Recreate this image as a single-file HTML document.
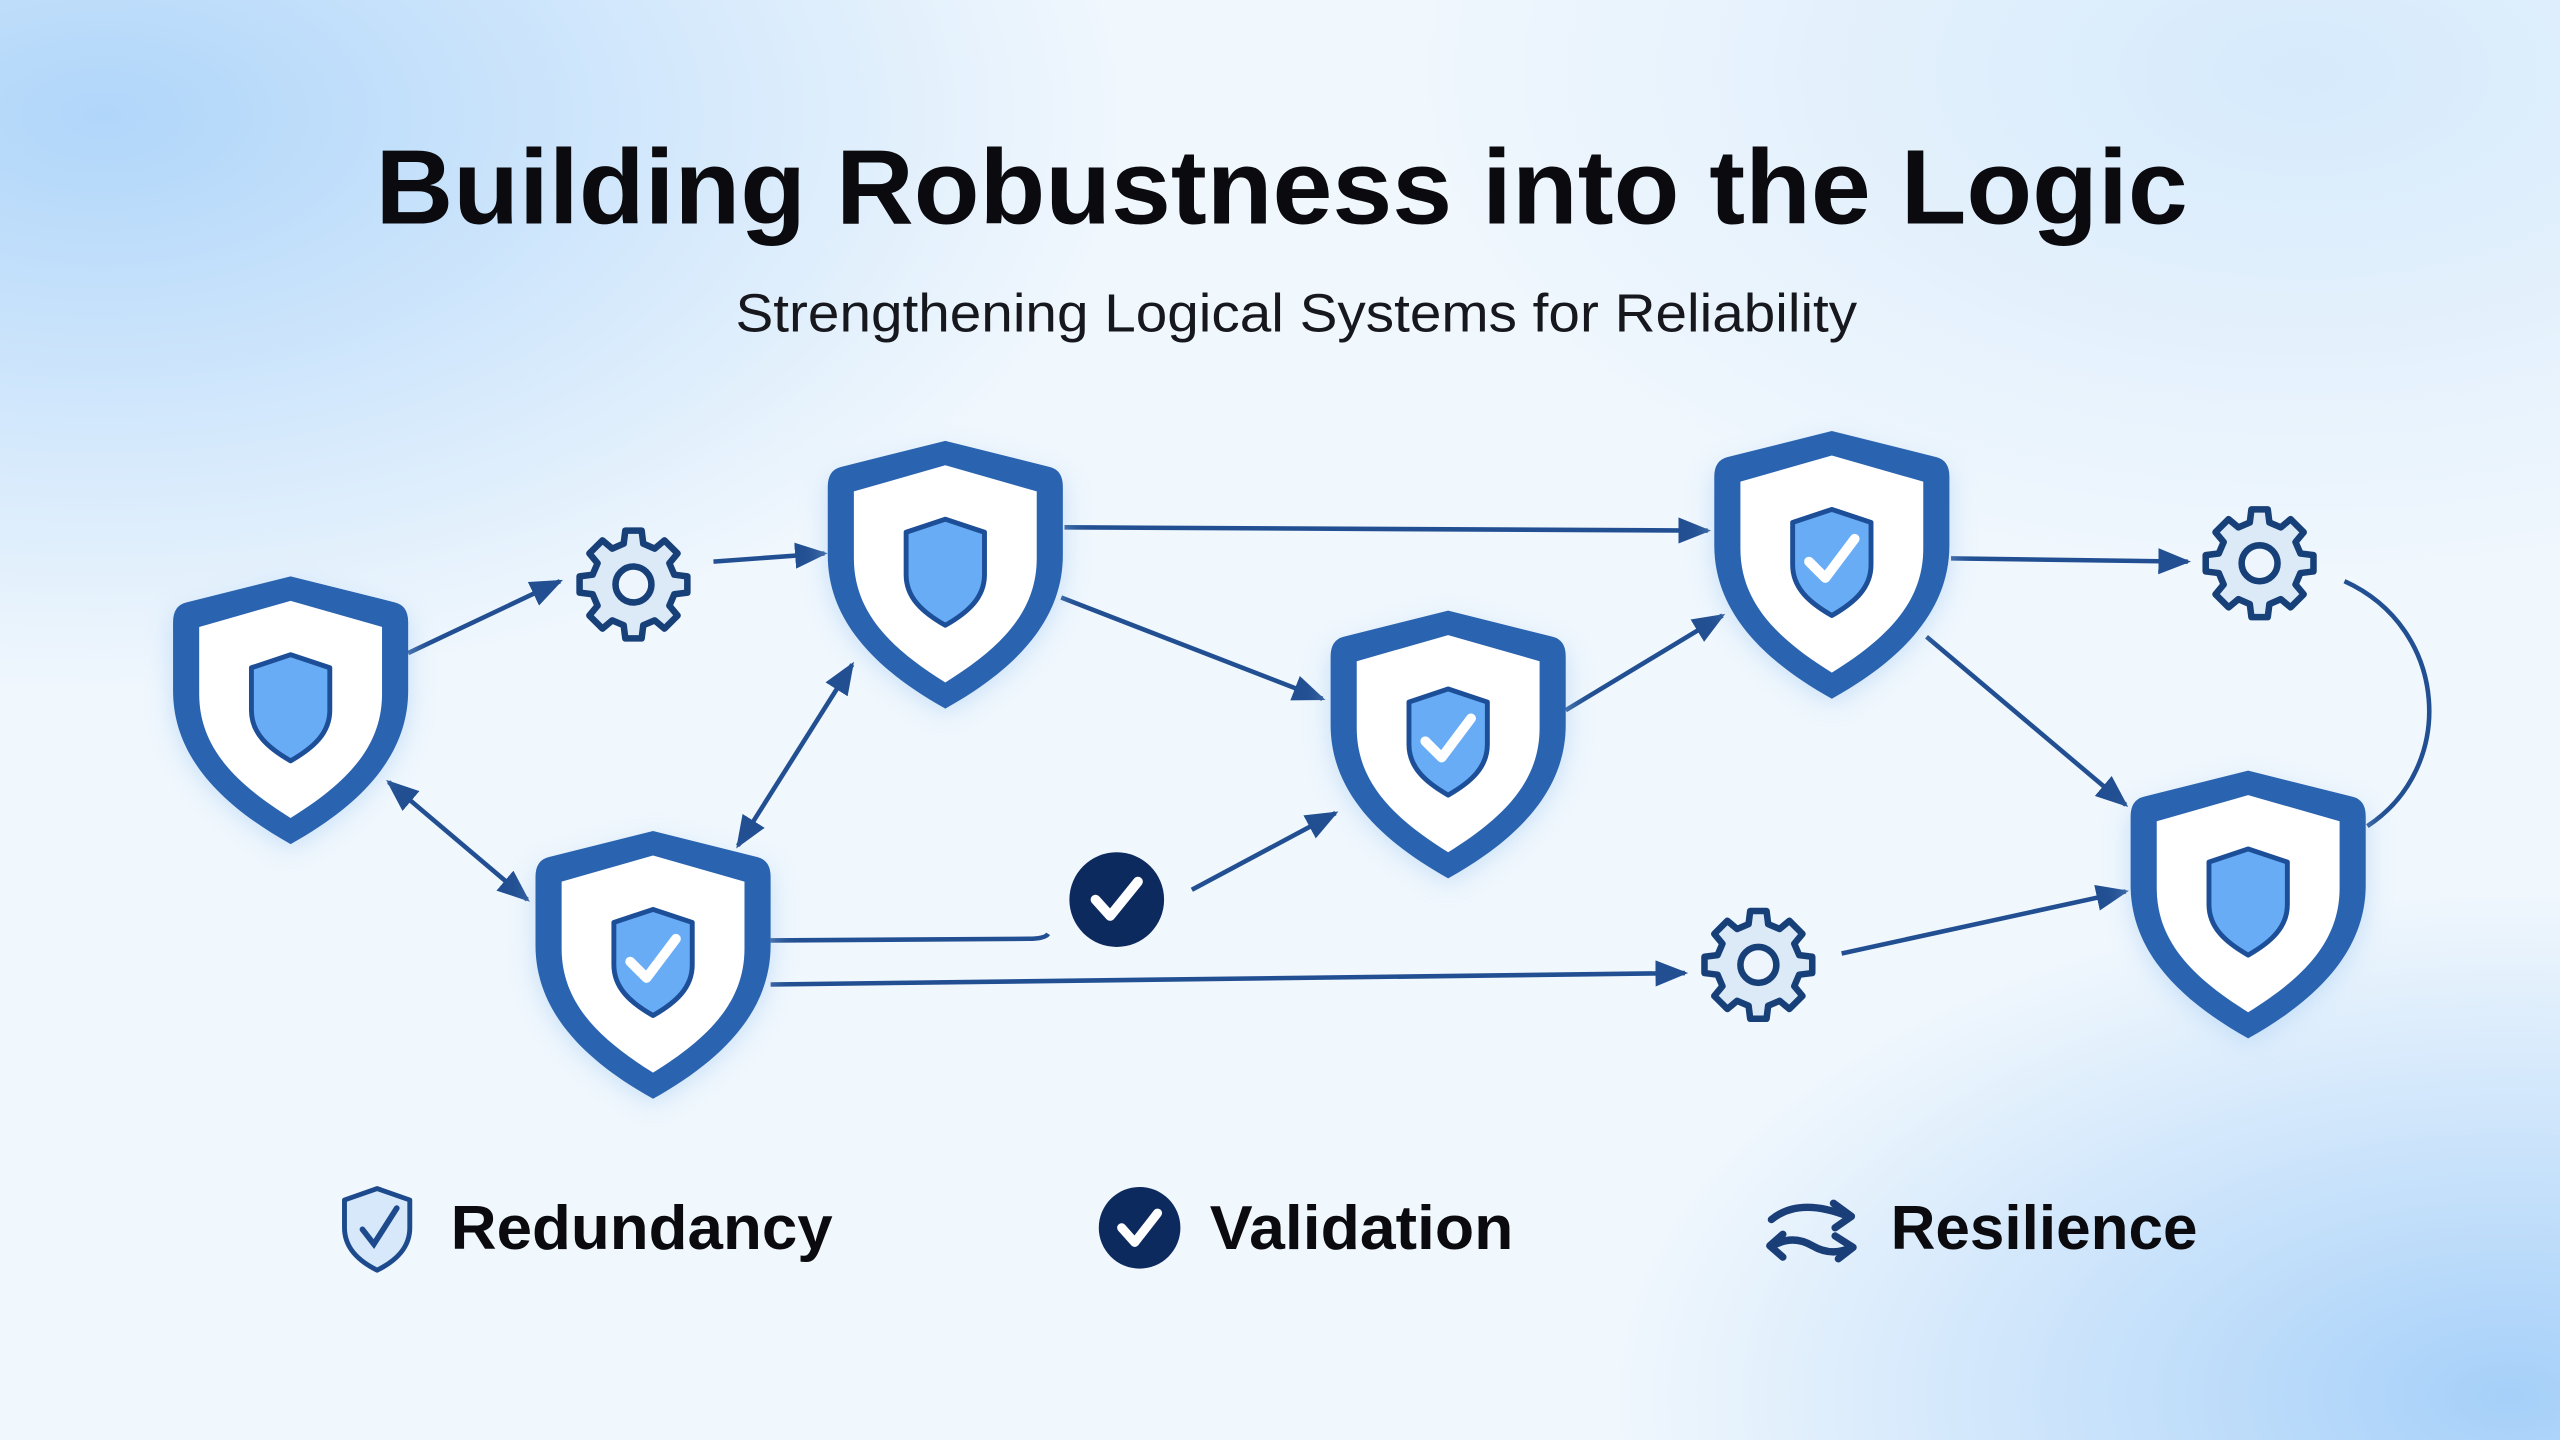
<!DOCTYPE html>
<html><head><meta charset="utf-8"><style>
html,body{margin:0;padding:0;width:2560px;height:1440px;overflow:hidden;}
svg{display:block}
</style></head><body>
<svg width="2560" height="1440" viewBox="0 0 1568 882" xmlns="http://www.w3.org/2000/svg">
<defs>
<radialGradient id="g1" cx="0.04" cy="0.08" r="0.4"><stop offset="0" stop-color="#b0d6fa"/><stop offset="1" stop-color="#b0d6fa" stop-opacity="0"/></radialGradient>
<radialGradient id="g2" cx="0.98" cy="0.97" r="0.35"><stop offset="0" stop-color="#a6d0f9"/><stop offset="1" stop-color="#a6d0f9" stop-opacity="0"/></radialGradient>
<radialGradient id="g3" cx="0.9" cy="0.05" r="0.35"><stop offset="0" stop-color="#d6eafc"/><stop offset="1" stop-color="#d6eafc" stop-opacity="0"/></radialGradient>
<marker id="a" viewBox="0 0 10 10" refX="9" refY="5" markerWidth="20" markerHeight="16" orient="auto-start-reverse" markerUnits="userSpaceOnUse" preserveAspectRatio="none"><path d="M0,0 L10,5 L0,10 Z" fill="#214f92"/></marker>
<filter id="sh" x="-30%" y="-30%" width="160%" height="160%"><feGaussianBlur stdDeviation="8"/></filter>
<g id="shield">
<path d="M72,6 L140,24 Q144,26 144,32 L144,72 C144,112 116,140 72,166 C28,140 0,112 0,72 L0,32 Q0,26 4,24 Z" fill="#a6cdf4" opacity="0.6" filter="url(#sh)"/>
<path d="M72,0 L136,16 Q144,18 144,28 L144,70 C144,110 115,140 72,164 C29,140 0,110 0,70 L0,28 Q0,18 8,16 Z" fill="#2a63b0"/>
<path d="M72,15 L128,31 L128,72 C128,106 104,128 72,148 C40,128 16,106 16,72 L16,31 Z" fill="#ffffff"/>
<path d="M72,48 L96,56 L96,82 C96,96 86,105 72,113 C58,105 48,96 48,82 L48,56 Z" fill="#68acf6" stroke="#1d4f98" stroke-width="3" stroke-linejoin="round"/>
</g>
<g id="gear">
<path d="M-5,-33 L5,-33 L6,-25 L13,-22 L19,-27 L27,-19 L22,-13 L25,-6 L33,-5 L33,5 L25,6 L22,13 L27,19 L19,27 L13,22 L6,25 L5,33 L-5,33 L-6,25 L-13,22 L-19,27 L-27,19 L-22,13 L-25,6 L-33,5 L-33,-5 L-25,-6 L-22,-13 L-27,-19 L-19,-27 L-13,-22 L-6,-25 Z" fill="#dceaf8" stroke="#173f78" stroke-width="4" stroke-linejoin="round"/>
<circle r="11" fill="#eef5fd" stroke="#173f78" stroke-width="4"/>
</g>
<path id="chk" d="M58,80 L68,90 L86,66" fill="none" stroke="#fff" stroke-width="6" stroke-linecap="round" stroke-linejoin="round"/>
</defs>
<rect width="1568" height="882" fill="#f0f7fd"/>
<rect width="1568" height="882" fill="url(#g3)"/>
<rect width="1568" height="882" fill="url(#g1)"/>
<rect width="1568" height="882" fill="url(#g2)"/>

<text x="785" y="137" text-anchor="middle" font-family="Liberation Sans, sans-serif" font-weight="bold" font-size="65" fill="#0b0b0f" textLength="1110" lengthAdjust="spacingAndGlyphs">Building Robustness into the Logic</text>
<text x="794" y="203" text-anchor="middle" font-family="Liberation Sans, sans-serif" font-size="33" fill="#16181d" textLength="687" lengthAdjust="spacingAndGlyphs">Strengthening Logical Systems for Reliability</text>

<g stroke="#214f92" stroke-width="2.8" fill="none">
<line x1="250" y1="400" x2="343" y2="356" marker-end="url(#a)"/>
<line x1="437" y1="344" x2="505" y2="339" marker-end="url(#a)"/>
<line x1="652" y1="323" x2="1046" y2="325" marker-end="url(#a)"/>
<line x1="650" y1="366" x2="810" y2="428" marker-end="url(#a)"/>
<line x1="522" y1="407" x2="452" y2="518" marker-start="url(#a)" marker-end="url(#a)"/>
<line x1="238" y1="479" x2="323" y2="551" marker-start="url(#a)" marker-end="url(#a)"/>
<path d="M472,576 L630,575 Q640,575 642,572"/>
<line x1="730" y1="545" x2="818" y2="498" marker-end="url(#a)"/>
<line x1="959" y1="435" x2="1055" y2="377" marker-end="url(#a)"/>
<line x1="1195" y1="342" x2="1340" y2="344" marker-end="url(#a)"/>
<line x1="1180" y1="390" x2="1302" y2="493" marker-end="url(#a)"/>
<line x1="472" y1="603" x2="1032" y2="596" marker-end="url(#a)"/>
<line x1="1128" y1="584" x2="1302" y2="546" marker-end="url(#a)"/>
<path d="M1436,356 C1500,385 1505,470 1450,506"/>
</g>

<use href="#shield" x="106" y="353"/>
<use href="#shield" x="507" y="270"/>
<use href="#shield" x="328" y="509"/><use href="#chk" x="328" y="509"/>
<use href="#shield" x="815" y="374"/><use href="#chk" x="815" y="374"/>
<use href="#shield" x="1050" y="264"/><use href="#chk" x="1050" y="264"/>
<use href="#shield" x="1305" y="472"/>

<use href="#gear" x="388" y="358"/>
<use href="#gear" x="1384" y="345"/>
<use href="#gear" x="1077" y="591"/>

<circle cx="684" cy="551" r="29" fill="#0d2a5e"/>
<path d="M671,551 L680,561 L697,540" fill="none" stroke="#fff" stroke-width="6" stroke-linecap="round" stroke-linejoin="round"/>

<path d="M231,728 L251,735 L251,752 C251,764 243,772 231,778 C219,772 211,764 211,752 L211,735 Z" fill="#d7e8fa" stroke="#1d4a8c" stroke-width="3" stroke-linejoin="round"/>
<path d="M222,753 L229,762 L243,740" fill="none" stroke="#1d4a8c" stroke-width="3.5" stroke-linecap="round"/>
<text x="276" y="765" font-family="Liberation Sans, sans-serif" font-weight="bold" font-size="38" fill="#0b0b0f" textLength="234" lengthAdjust="spacingAndGlyphs">Redundancy</text>
<circle cx="698" cy="752" r="25" fill="#0d2a5e"/>
<path d="M687,752 L695,761 L709,743" fill="none" stroke="#fff" stroke-width="5.5" stroke-linecap="round" stroke-linejoin="round"/>
<text x="741" y="765" font-family="Liberation Sans, sans-serif" font-weight="bold" font-size="38" fill="#0b0b0f" textLength="186" lengthAdjust="spacingAndGlyphs">Validation</text>
<g fill="none" stroke="#1a3e78" stroke-width="4.5" stroke-linecap="round" stroke-linejoin="round">
<path d="M1085,747 Q1102,733 1132,745"/>
<path d="M1123,737 L1134,745 L1124,752"/>
<path d="M1086,763 Q1098,756 1110,763 Q1122,770 1134,764"/>
<path d="M1092,756 L1084,763 L1092,770"/>
<path d="M1124,757 L1135,764 L1126,771"/>
</g>
<text x="1158" y="765" font-family="Liberation Sans, sans-serif" font-weight="bold" font-size="38" fill="#0b0b0f" textLength="188" lengthAdjust="spacingAndGlyphs">Resilience</text>
</svg>
</body></html>
